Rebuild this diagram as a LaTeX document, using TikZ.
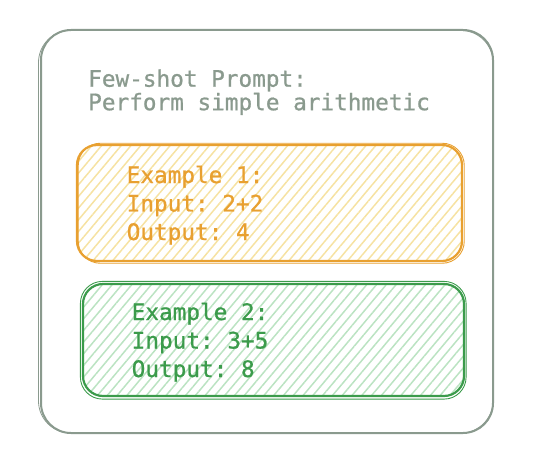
\documentclass[tikz,border=0pt]{standalone}
\usepackage{fontspec}
\setmonofont[FakeBold = 0.8]{DejaVu Sans Mono}
\usetikzlibrary{patterns.meta}

\definecolor{framegray}{HTML}{8A9A8E}
\definecolor{exorange}{HTML}{E8A030}
\definecolor{exyellow}{HTML}{F6E2A2}
\definecolor{exgreen}{HTML}{3B9B4B}
\definecolor{exmint}{HTML}{BBE3C2}

\begin{document}
\begin{tikzpicture}[x = 1pt, y = -1pt,
	 sketchbox/.style = {draw, line width = 2.2pt, rounded corners = 20pt, inner sep = 0pt},
	 boxtext/.style = {anchor = base west, align = left, inner sep = 0pt,
	 font = \ttfamily\fontsize{22.7}{28.5}\selectfont}]
	 \useasboundingbox (0, 0) rectangle (543, 465);
	 
	 % outer frame, drawn twice for the sketchy look
	 \node (frame) [draw = framegray, line width = 2pt, rounded corners = 30pt,
	 minimum width = 452pt, minimum height = 403pt] at (267, 231.5) {};
	 \draw[framegray, line width = 0.8pt, rounded corners = 32pt]
	 ([shift = {(-1.5, -1)}]frame.south west) rectangle ([shift = {(-1, 1.5)}]frame.north east);
	 
	 % the base anchor sits on the last line
	 \node (title) [boxtext, text = framegray, font = \ttfamily\fontsize{22.7}{23.5}\selectfont]
	 at (88, 110.2) {Few-shot Prompt:\\Perform simple arithmetic};
	 
	 % example 1
	 \node (ex1) [sketchbox, draw = exorange, minimum width = 385pt, minimum height = 116pt,
	 pattern = {Lines[angle = 50, distance = 7.5pt, line width = 1.5pt]}, pattern color = exyellow]
	 at (269.5, 203) {};
	 \draw[exorange, line width = 0.9pt, rounded corners = 22pt]
	 ([shift = {(2, 1.5)}]ex1.south west) rectangle ([shift = {(1.5, -1)}]ex1.north east);
	 \node (ex1text) [boxtext, text = exorange] at (126.5, 240) {Example 1:\\Input: 2+2\\Output: 4};
	 
	 % example 2
	 \node (ex2) [sketchbox, draw = exgreen, minimum width = 381pt, minimum height = 112pt,
	 pattern = {Lines[angle = 50, distance = 7.5pt, line width = 1.5pt]}, pattern color = exmint]
	 at (273.5, 340) {};
	 \draw[exgreen, line width = 0.9pt, rounded corners = 22pt]
	 ([shift = {(-1.5, 2)}]ex2.south west) rectangle ([shift = {(1, -1.5)}]ex2.north east);
	 \node (ex2text) [boxtext, text = exgreen] at (131.5, 377) {Example 2:\\Input: 3+5\\Output: 8};
\end{tikzpicture}
\end{document}
